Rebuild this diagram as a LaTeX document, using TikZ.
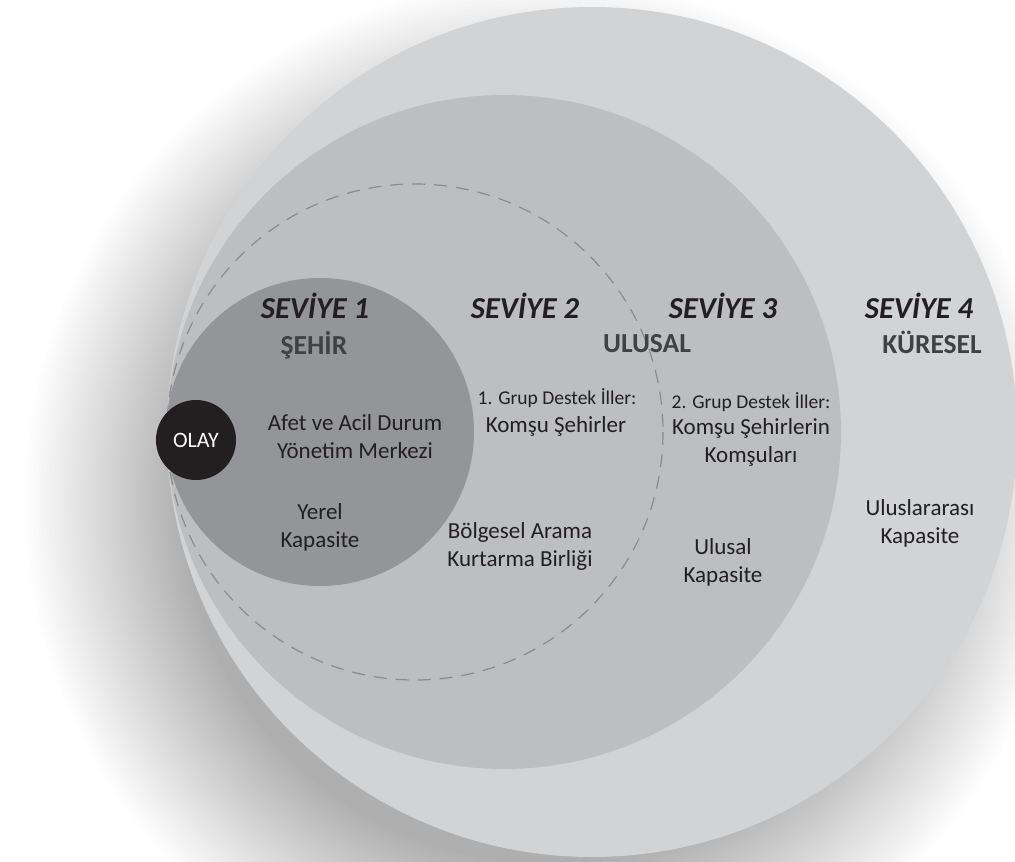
\documentclass[tikz,border=0pt]{standalone}
\usepackage{fontspec}
\setmainfont{Carlito}
\definecolor{ring4}{HTML}{D1D3D4}
\definecolor{ring3}{HTML}{BCBEC0}
\definecolor{ring1}{HTML}{939598}
\definecolor{olaybg}{HTML}{231F20}
\definecolor{txt}{HTML}{231F20}
\definecolor{headtxt}{HTML}{414143}
\definecolor{dashcol}{HTML}{8A8B8E}
\begin{document}
\begin{tikzpicture}[x=1pt,y=-1pt,
  level/.style={font=\fontsize{30.5}{32}\selectfont\bfseries\itshape, text=txt, inner sep=0pt},
  scope/.style={font=\fontsize{27.5}{30}\selectfont\bfseries, text=headtxt, inner sep=0pt},
  body/.style={font=\fontsize{23}{28}\selectfont, text=txt, align=center, inner sep=0pt},
  small/.style={font=\fontsize{19.5}{22}\selectfont, text=txt, align=center, inner sep=0pt}]
\useasboundingbox (0,0) rectangle (1015,862);
\fill[white] (0,0) rectangle (1015,862);
\begin{scope}
\clip (0,0) rectangle (1015,862);
% soft shadow
\foreach \k in {0,...,39} {
  \fill[black, opacity=0.009] (545,500) circle[radius={520-4*\k}];
}
\fill[ring4] (592,432) circle[radius=425];
\end{scope}
\fill[ring3] (504,432) circle[radius=337];
\draw[dashcol, line width=1.2pt, dash pattern=on 13pt off 9pt] (415,432) circle[radius=248];
\fill[ring1] (320,432) circle[radius=154];
\node[circle, fill=olaybg, minimum size=80pt, inner sep=0pt, text=white,
      font=\fontsize{22}{24}\selectfont] (olay) at (196,440) {OLAY};

\node[level] (sev1) at (315,306) {SEVİYE 1};
\node[level] (sev2) at (525,306) {SEVİYE 2};
\node[level] (sev3) at (723,306) {SEVİYE 3};
\node[level] (sev4) at (919,306) {SEVİYE 4};

\node[scope] (sehir) at (314,345) {ŞEHİR};
\node[scope] (ulusal) at (647,344) {ULUSAL};
\node[scope] (kuresel) at (932,342) {KÜRESEL};

\node[body] (afet) at (355,437) {Afet ve Acil Durum\\Yönetim Merkezi};
\node[body] (yerel) at (320,527) {Yerel\\Kapasite};
\node[small] (g1) at (557,398) {1. Grup Destek İller:};
\node[body] (komsu1) at (556,426) {Komşu Şehirler};
\node[body] (bolge) at (520,546) {Bölgesel Arama\\Kurtarma Birliği};
\node[small] (g2) at (751,402) {2. Grup Destek İller:};
\node[body] (komsu2) at (751,442) {Komşu Şehirlerin\\Komşuları};
\node[body] (ulusalk) at (723,562) {Ulusal\\Kapasite};
\node[body] (uluslar) at (920,523) {Uluslararası\\Kapasite};
\end{tikzpicture}
\end{document}
